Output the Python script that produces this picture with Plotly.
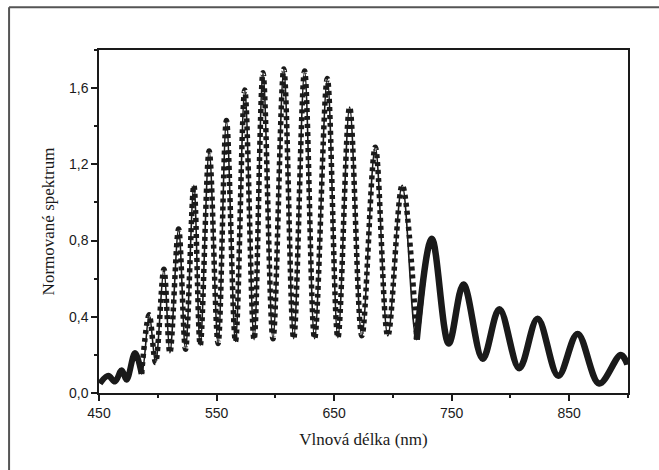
import plotly.graph_objects as go

# Extrema of the normalised spectrum (nm, value)
wavelength_nm = [450.8, 457.9, 463.6, 469.3, 473.5, 480.6, 486.2, 492.7, 498.1, 505.2,
                 510.3, 517.7, 523.6, 530.7, 536.1, 543.7, 551.3, 558.4, 566.1, 574.0,
                 581.9, 589.5, 598.0, 607.2, 615.6, 624.9, 633.4, 644.2, 653.2, 663.2,
                 673.6, 685.0, 695.7, 707.9, 720.3, 733.1, 747.5, 760.0, 776.4, 790.6,
                 807.5, 823.1, 840.7, 857.1, 875.5, 893.9, 899.5]
spectrum = [0.05, 0.09, 0.06, 0.12, 0.07, 0.21, 0.10, 0.41, 0.16, 0.65,
            0.21, 0.86, 0.23, 1.09, 0.25, 1.27, 0.26, 1.43, 0.27, 1.59,
            0.28, 1.68, 0.285, 1.70, 0.285, 1.69, 0.285, 1.65, 0.29, 1.50,
            0.30, 1.29, 0.30, 1.09, 0.28, 0.81, 0.26, 0.57, 0.18, 0.44,
            0.13, 0.39, 0.09, 0.31, 0.05, 0.20, 0.15]

x_tickvals = [450, 550, 650, 750, 850]
x_ticktext = ["450", "550", "650", "750", "850"]
y_tickvals = [0.0, 0.4, 0.8, 1.2, 1.6]
y_ticktext = ["0,0", "0,4", "0,8", "1,2", "1,6"]

# wavelength bands where the sampled dots are dense enough to look solid
dense_below_nm = 487
dense_above_nm = 720

i_lo = max(i for i, w in enumerate(wavelength_nm) if w <= dense_below_nm)
i_hi = min(i for i, w in enumerate(wavelength_nm) if w >= dense_above_nm)

ink = "#1a1a1a"
fig = go.Figure()
fig.add_trace(go.Scatter(x=wavelength_nm, y=spectrum, mode="lines",
                         line=dict(color=ink, width=1.6, shape="spline", smoothing=1.0),
                         hoverinfo="skip", showlegend=False))
fig.add_trace(go.Scatter(x=wavelength_nm[:i_lo + 1], y=spectrum[:i_lo + 1], mode="lines",
                         line=dict(color=ink, width=6, shape="spline", smoothing=1.0),
                         showlegend=False))
fig.add_trace(go.Scatter(x=wavelength_nm[i_lo:i_hi + 1], y=spectrum[i_lo:i_hi + 1], mode="lines",
                         line=dict(color=ink, width=5.5, shape="spline", smoothing=1.0,
                                   dash="4px,4px"),
                         showlegend=False))
fig.add_trace(go.Scatter(x=wavelength_nm[i_hi:], y=spectrum[i_hi:], mode="lines",
                         line=dict(color=ink, width=6.5, shape="spline", smoothing=1.0),
                         showlegend=False))

axis_common = dict(showgrid=False, zeroline=False, showline=True, linecolor=ink,
                   linewidth=1.5, mirror=True, ticks="outside", tickcolor=ink,
                   tickwidth=1.5, ticklen=6,
                   tickfont=dict(family="Liberation Sans, Arial, sans-serif", size=14, color=ink))

fig.update_xaxes(range=[450, 900], tickvals=x_tickvals, ticktext=x_ticktext,
                 minor=dict(dtick=50, tick0=450, ticks="outside", ticklen=3, tickwidth=1.5,
                            tickcolor=ink),
                 title=dict(text="Vlnová délka (nm)", standoff=14,
                            font=dict(family="Liberation Serif, Times New Roman, serif", size=17,
                                      color=ink)),
                 **axis_common)
fig.update_yaxes(range=[0, 1.8], tickvals=y_tickvals, ticktext=y_ticktext,
                 minor=dict(dtick=0.2, tick0=0, ticks="outside", ticklen=3, tickwidth=1.5,
                            tickcolor=ink),
                 title=dict(text="Normované spektrum", standoff=10,
                            font=dict(family="Liberation Serif, Times New Roman, serif", size=17,
                                      color=ink)),
                 **axis_common)

# outer scan frame (top and left edges)
fig.add_shape(type="line", xref="paper", yref="paper", x0=-0.170, y0=1.125, x1=1.1, y1=1.125,
              line=dict(color="#555555", width=2))
fig.add_shape(type="line", xref="paper", yref="paper", x0=-0.170, y0=1.125, x1=-0.170, y1=-0.3,
              line=dict(color="#555555", width=2))

fig.update_layout(width=659, height=470, margin=dict(l=99, r=31, t=50, b=77),
                  paper_bgcolor="white", plot_bgcolor="white")

fig.write_html("out.html", config={"displayModeBar": False},
               post_script="document.body.style.margin='0px';")
